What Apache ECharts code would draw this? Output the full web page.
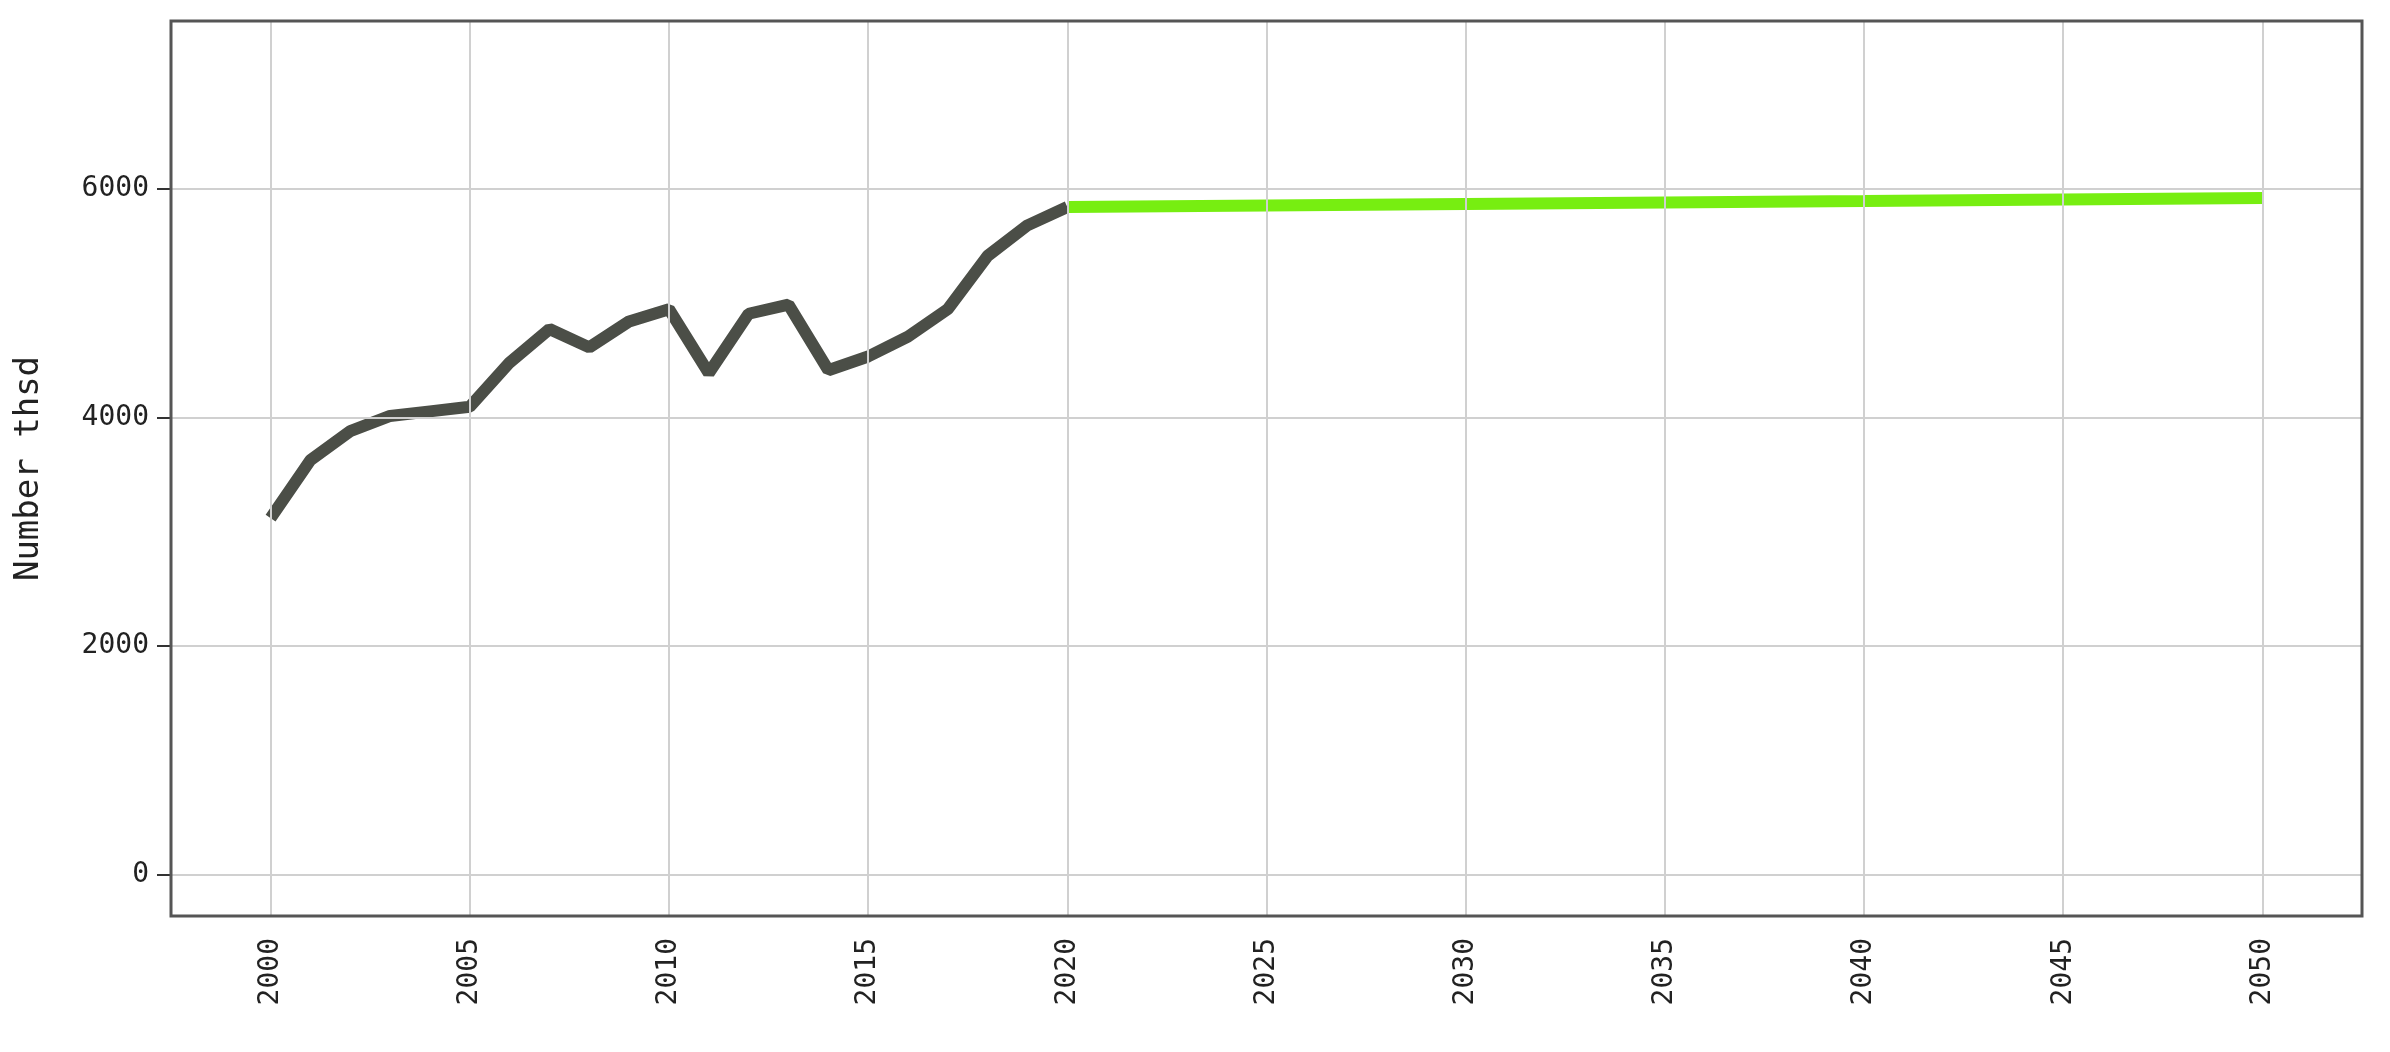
<!DOCTYPE html>
<html><head><meta charset="utf-8">
<script src="https://cdn.jsdelivr.net/npm/echarts@6/dist/echarts.min.js"></script>
<style>html,body{margin:0;background:#fff}#c{width:2390px;height:1052px}</style>
</head><body><div id="c"></div>
<script>
// history (black line) and projection (green line)
const histYears = [2000,2001,2002,2003,2004,2005,2006,2007,2008,2009,2010,2011,2012,2013,2014,2015,2016,2017,2018,2019,2020];
const histValues = [3120,3627,3880,4013,4053,4093,4480,4773,4613,4840,4947,4387,4907,4987,4413,4533,4707,4947,5413,5680,5840];
const projYears = [2020,2030,2040,2050];
const projValues = [5840,5867,5893,5920];
const xTicks = [2000,2005,2010,2015,2020,2025,2030,2035,2040,2045,2050];
const yTicks = [0,2000,4000,6000];

const font = 'DejaVu Sans Mono';
const L = 171, R = 2362, T = 21, B = 916;
const chart = echarts.init(document.getElementById('c'));
chart.setOption({
  animation: false,
  grid: {left: L, right: 2390 - R, top: T, bottom: 1052 - B},
  xAxis: {
    type: 'value', min: 1997.5, max: 2052.5,
    axisLine: {show: false},
    splitLine: {show: false},
    axisLabel: {
      rotate: 90, fontFamily: font, fontSize: 28, color: '#222', margin: 22,
      customValues: xTicks, formatter: v => String(v)
    },
    axisTick: {show: true, customValues: xTicks, length: 14, lineStyle: {color: '#333', width: 2}}
  },
  yAxis: {
    type: 'value', min: -360, max: 7467,
    name: 'Number thsd', nameLocation: 'middle', nameGap: 125,
    nameTextStyle: {fontFamily: font, fontSize: 34, color: '#222'},
    axisLine: {show: false},
    splitLine: {show: false},
    axisLabel: {fontFamily: font, fontSize: 28, color: '#222', margin: 22,
      customValues: yTicks, formatter: v => String(v)},
    axisTick: {show: true, customValues: yTicks, length: 14, lineStyle: {color: '#333', width: 2}}
  },
  graphic: [{
    type: 'rect', silent: true, z: 10,
    shape: {x: L, y: T, width: R - L, height: B - T},
    style: {fill: 'none', stroke: '#555', lineWidth: 3}
  }],
  series: [
    {type: 'line', data: [], markLine: {silent: true, symbol: 'none', label: {show: false},
      lineStyle: {color: '#d0d0d0', width: 2, type: 'solid'},
      data: yTicks.map(v => ({yAxis: v})).concat(xTicks.map(v => ({xAxis: v})))}},
    {type: 'line', data: histYears.map((y, i) => [y, histValues[i]]),
      symbol: 'none', lineStyle: {color: '#4b4e47', width: 12}, z: 3},
    {type: 'line', data: projYears.map((y, i) => [y, projValues[i]]),
      symbol: 'none', lineStyle: {color: '#77ee11', width: 12}, z: 4}
  ]
});
</script></body></html>
